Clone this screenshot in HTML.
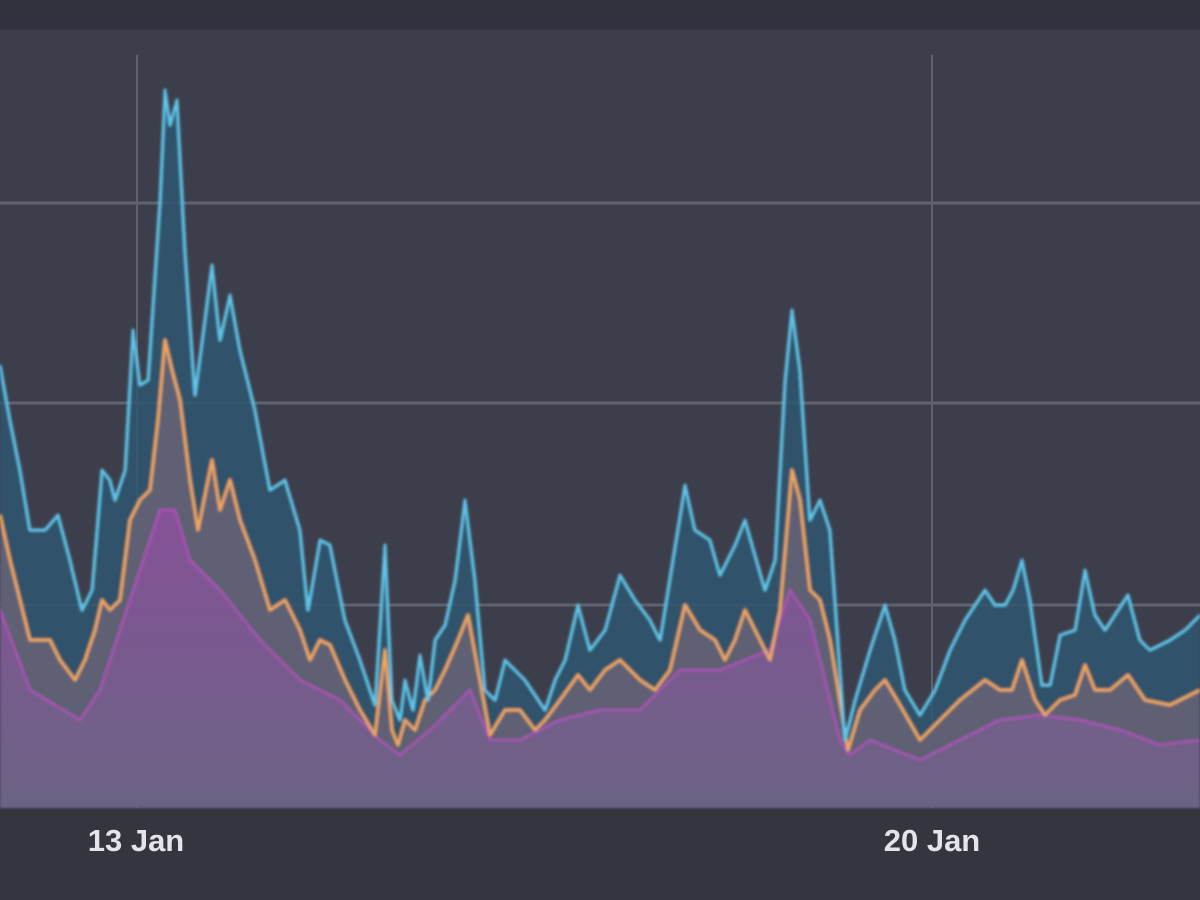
<!DOCTYPE html>
<html><head><meta charset="utf-8"><style>
html,body{margin:0;padding:0;background:#33343f;}
svg{display:block}
</style></head><body>
<svg width="1200" height="900" viewBox="0 0 1200 900" xmlns="http://www.w3.org/2000/svg">
<defs>
<linearGradient id="mg" x1="0" y1="0" x2="0" y2="1">
<stop offset="0" stop-color="#8a4f9c"/><stop offset="1" stop-color="#6c6486"/>
</linearGradient>
<filter id="bl"><feGaussianBlur stdDeviation="1.2"/></filter>
</defs>
<rect x="0" y="0" width="1200" height="900" fill="#35353f"/>
<rect x="0" y="0" width="1200" height="30" fill="#31323d"/>
<rect x="0" y="30" width="1200" height="778" fill="#3d3e4c"/>
<g stroke="#60616f" stroke-width="3">
<line x1="0" y1="203" x2="1200" y2="203"/>
<line x1="0" y1="403" x2="1200" y2="403"/>
<line x1="0" y1="605" x2="1200" y2="605"/>
<line x1="137" y1="55" x2="137" y2="808" stroke-width="2"/>
<line x1="932" y1="55" x2="932" y2="808" stroke-width="2"/>
</g>
<g filter="url(#bl)">
<polygon fill="#305670" opacity="0.85" points="0,808 0,365 10,420 20,470 30,530 45,530 58,515 70,560 82,610 92,590 102,470 110,480 115,500 125,470 133,330 140,385 148,380 160,200 165,90 170,125 177,100 185,250 195,395 212,265 220,340 230,295 240,350 255,410 270,490 285,480 300,530 308,610 320,540 330,545 345,620 360,660 375,705 385,545 392,700 400,720 405,680 413,710 420,655 428,700 435,640 445,625 455,580 465,500 475,580 485,690 495,700 505,660 515,670 525,680 545,710 555,680 565,660 578,605 590,650 605,630 620,575 635,600 650,620 660,640 672,565 685,485 695,530 710,540 720,575 735,545 745,520 755,555 765,590 775,560 785,380 792,310 800,370 810,520 820,500 830,530 845,740 855,700 870,650 885,605 895,640 905,690 920,715 935,690 950,650 965,620 985,590 995,605 1005,605 1013,590 1022,560 1030,600 1042,685 1050,685 1060,635 1075,630 1085,570 1095,615 1105,630 1118,610 1128,595 1140,640 1150,650 1170,640 1185,630 1200,615 1200,808"/>
<polygon fill="#5f6073" points="0,808 0,515 10,560 20,600 30,640 50,640 60,660 75,680 85,660 95,630 102,600 110,610 120,600 130,520 140,500 150,490 158,420 165,340 172,370 180,400 190,480 198,530 212,460 220,510 230,480 240,520 255,560 270,610 285,600 300,630 310,660 320,640 330,645 345,680 360,710 375,735 385,650 392,730 398,745 405,720 415,730 425,700 435,690 445,670 458,640 468,615 478,670 490,735 505,710 520,710 535,730 545,720 560,700 578,675 590,690 605,670 620,660 640,680 655,690 670,670 685,605 700,630 715,640 725,660 735,640 745,610 760,640 770,660 780,610 792,470 800,500 810,590 820,600 830,640 848,750 860,710 875,690 885,680 900,705 920,740 940,720 960,700 985,680 1000,690 1012,690 1022,660 1035,700 1045,715 1060,700 1075,695 1085,665 1095,690 1110,690 1128,675 1145,700 1170,705 1200,690 1200,808"/>
<polygon fill="url(#mg)" opacity="0.9" points="0,808 0,610 30,690 80,720 100,690 130,600 160,510 175,510 190,560 220,590 260,640 300,680 340,700 380,740 400,755 430,730 470,690 490,740 520,740 560,720 600,710 640,710 680,670 720,670 770,650 790,590 810,620 840,740 850,755 870,740 920,760 960,740 1000,720 1040,715 1080,720 1120,730 1160,745 1200,740 1200,808"/>
<polyline fill="none" stroke="#b24fbd" stroke-width="2" points="0,610 30,690 80,720 100,690 130,600 160,510 175,510 190,560 220,590 260,640 300,680 340,700 380,740 400,755 430,730 470,690 490,740 520,740 560,720 600,710 640,710 680,670 720,670 770,650 790,590 810,620 840,740 850,755 870,740 920,760 960,740 1000,720 1040,715 1080,720 1120,730 1160,745 1200,740"/>
<polyline fill="none" stroke="#f0a860" stroke-width="3" stroke-linejoin="round" points="0,515 10,560 20,600 30,640 50,640 60,660 75,680 85,660 95,630 102,600 110,610 120,600 130,520 140,500 150,490 158,420 165,340 172,370 180,400 190,480 198,530 212,460 220,510 230,480 240,520 255,560 270,610 285,600 300,630 310,660 320,640 330,645 345,680 360,710 375,735 385,650 392,730 398,745 405,720 415,730 425,700 435,690 445,670 458,640 468,615 478,670 490,735 505,710 520,710 535,730 545,720 560,700 578,675 590,690 605,670 620,660 640,680 655,690 670,670 685,605 700,630 715,640 725,660 735,640 745,610 760,640 770,660 780,610 792,470 800,500 810,590 820,600 830,640 848,750 860,710 875,690 885,680 900,705 920,740 940,720 960,700 985,680 1000,690 1012,690 1022,660 1035,700 1045,715 1060,700 1075,695 1085,665 1095,690 1110,690 1128,675 1145,700 1170,705 1200,690"/>
<polyline fill="none" stroke="#5ec6ea" stroke-width="3" stroke-linejoin="round" points="0,365 10,420 20,470 30,530 45,530 58,515 70,560 82,610 92,590 102,470 110,480 115,500 125,470 133,330 140,385 148,380 160,200 165,90 170,125 177,100 185,250 195,395 212,265 220,340 230,295 240,350 255,410 270,490 285,480 300,530 308,610 320,540 330,545 345,620 360,660 375,705 385,545 392,700 400,720 405,680 413,710 420,655 428,700 435,640 445,625 455,580 465,500 475,580 485,690 495,700 505,660 515,670 525,680 545,710 555,680 565,660 578,605 590,650 605,630 620,575 635,600 650,620 660,640 672,565 685,485 695,530 710,540 720,575 735,545 745,520 755,555 765,590 775,560 785,380 792,310 800,370 810,520 820,500 830,530 845,740 855,700 870,650 885,605 895,640 905,690 920,715 935,690 950,650 965,620 985,590 995,605 1005,605 1013,590 1022,560 1030,600 1042,685 1050,685 1060,635 1075,630 1085,570 1095,615 1105,630 1118,610 1128,595 1140,640 1150,650 1170,640 1185,630 1200,615"/>
</g>
<g font-family="Liberation Sans, sans-serif" font-weight="bold" font-size="31" fill="#e4e4ea" text-anchor="middle">
<text x="136" y="851">13 Jan</text>
<text x="932" y="851">20 Jan</text>
</g>
</svg>
</body></html>
